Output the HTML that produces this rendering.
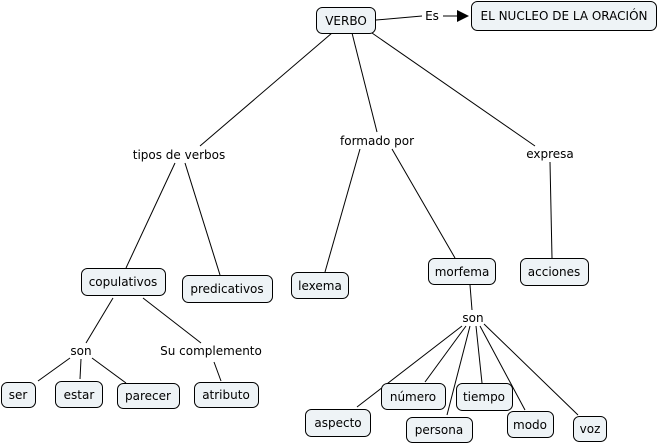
<!DOCTYPE html>
<html><head><meta charset="utf-8"><style>
body{margin:0;background:#fff;}
svg{display:block;font-family:Verdana,"DejaVu Sans",sans-serif;font-size:12px;}
rect{fill:#eef3f6;stroke:#000;stroke-width:1;}
line{stroke:#000;stroke-width:1;}
text{fill:#000;text-anchor:middle;dominant-baseline:central;}
</style></head><body>
<svg width="660" height="444" viewBox="0 0 660 444">
<!-- lines -->
<line x1="332" y1="33" x2="200" y2="146"/>
<line x1="352" y1="33" x2="377" y2="132"/>
<line x1="372" y1="33" x2="535" y2="146"/>
<line x1="376" y1="20" x2="422" y2="16"/>
<line x1="443" y1="16" x2="458" y2="16"/>
<polygon points="457,10 469,16 457,22" fill="#000"/>
<line x1="175" y1="163" x2="126" y2="268"/>
<line x1="185" y1="163" x2="220" y2="275"/>
<line x1="360" y1="149" x2="325" y2="272"/>
<line x1="392" y1="149" x2="455" y2="258"/>
<line x1="550" y1="162" x2="552" y2="258"/>
<line x1="113" y1="298" x2="86" y2="343"/>
<line x1="143" y1="298" x2="201" y2="343"/>
<line x1="70" y1="358" x2="38" y2="381"/>
<line x1="81" y1="359" x2="80" y2="379"/>
<line x1="92" y1="358" x2="126" y2="383"/>
<line x1="214" y1="362" x2="221" y2="381"/>
<line x1="470" y1="285" x2="472" y2="310"/>
<line x1="462" y1="326" x2="357" y2="407"/>
<line x1="466" y1="326" x2="425" y2="382"/>
<line x1="470" y1="326" x2="447" y2="415"/>
<line x1="476" y1="326" x2="482" y2="383"/>
<line x1="480" y1="326" x2="525" y2="410"/>
<line x1="484" y1="324" x2="578" y2="415"/>
<!-- nodes -->
<rect x="316.5" y="7.5" width="59" height="26" rx="6"/><text x="346" y="21">VERBO</text>
<rect x="471.5" y="1.5" width="185" height="29" rx="6"/><text x="564" y="16">EL NUCLEO DE LA ORACIÓN</text>
<rect x="81.5" y="268.5" width="84" height="27" rx="6"/><text x="123" y="282">copulativos</text>
<rect x="182.5" y="275.5" width="90" height="27" rx="6"/><text x="227" y="289">predicativos</text>
<rect x="291.5" y="272.5" width="57" height="26" rx="6"/><text x="320" y="286">lexema</text>
<rect x="428.5" y="258.5" width="67" height="26" rx="6"/><text x="462" y="272">morfema</text>
<rect x="520.5" y="258.5" width="68" height="27" rx="6"/><text x="554" y="272">acciones</text>
<rect x="1.5" y="382.5" width="34" height="25" rx="6"/><text x="18" y="395">ser</text>
<rect x="55.5" y="381.5" width="47" height="26" rx="6"/><text x="79" y="395">estar</text>
<rect x="117.5" y="383.5" width="62" height="25" rx="6"/><text x="148" y="396">parecer</text>
<rect x="194.5" y="382.5" width="64" height="25" rx="6"/><text x="226" y="395">atributo</text>
<rect x="305.5" y="409.5" width="65" height="27" rx="6"/><text x="338" y="423">aspecto</text>
<rect x="381.5" y="383.5" width="64" height="26" rx="6"/><text x="413" y="397">número</text>
<rect x="406.5" y="417.5" width="66" height="25" rx="6"/><text x="439" y="430">persona</text>
<rect x="456.5" y="383.5" width="56" height="27" rx="6"/><text x="484" y="397">tiempo</text>
<rect x="507.5" y="411.5" width="46" height="26" rx="6"/><text x="530" y="425">modo</text>
<rect x="573.5" y="416.5" width="33" height="25" rx="6"/><text x="590" y="429">voz</text>
<!-- labels -->
<text x="432" y="16">Es</text>
<text x="179" y="155">tipos de verbos</text>
<text x="377" y="141">formado por</text>
<text x="550" y="154">expresa</text>
<text x="81" y="351">son</text>
<text x="211" y="351">Su complemento</text>
<text x="473" y="318">son</text>
</svg>
</body></html>
